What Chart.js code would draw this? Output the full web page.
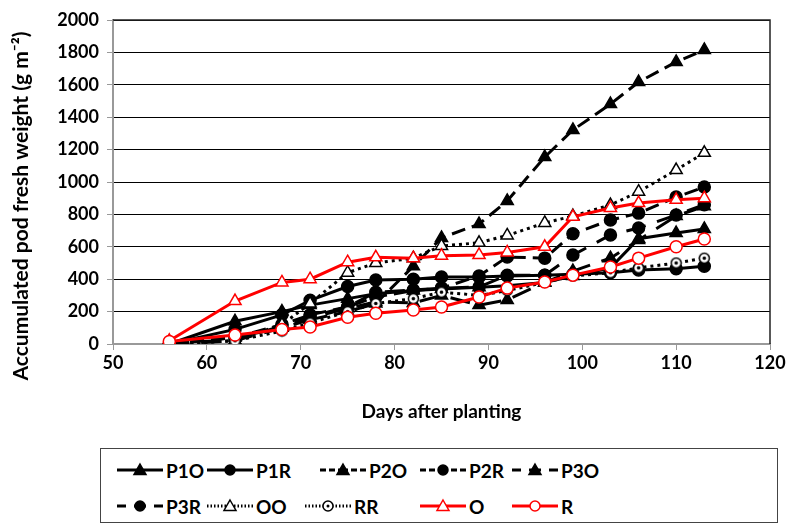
<!DOCTYPE html>
<html>
<head>
<meta charset="utf-8">
<script src="https://cdn.jsdelivr.net/npm/chart.js@4"></script>
<style>
body { margin: 0; background: #fff; font-family: Lato, "Liberation Sans", sans-serif; }
#wrap { position: relative; width: 788px; height: 527px; }
#chart { position: absolute; left: 0; top: 0; }
#legend { position: absolute; left: 100px; top: 448px; width: 678px; height: 75px; border: 1px solid #444; box-sizing: border-box; }
.item { position: absolute; display: flex; align-items: center; font-weight: bold; font-size: 19px; height: 20px; }
.item canvas { margin-right: 3px; }
</style>
</head>
<body>
<div id="wrap">
  <canvas id="chart" width="788" height="440"></canvas>
  <div id="legend"></div>
</div>
<script>
// days after planting
const days = [56, 63, 68, 71, 75, 78, 82, 85, 89, 92, 96, 99, 103, 106, 110, 113];

// accumulated pod fresh weight, g m-2
const p1o = [0, 140, 200, 240, 280, 310, 330, 340, 350, 360, 380, 420, 470, 650, 685, 710];
const p1r = [0, 90, 180, 270, 355, 395, 400, 413, 413, 420, 425, 430, 440, 457, 465, 480];
const p2o = [0, 40, 100, 150, 200, 250, 480, 655, 740, 883, 1154, 1321, 1481, 1617, 1741, 1815];
const p2r = [0, 40, 120, 180, 230, 290, 330, 345, 420, 537, 530, 680, 765, 808, 907, 969];
const p3o = [0, 20, 100, 160, 220, 260, 253, 300, 240, 272, 380, 450, 530, 642, 790, 850];
const p3r = [0, 30, 110, 170, 228, 320, 333, 345, 352, 425, 425, 549, 673, 716, 796, 860];
const oo  = [0, 20, 120, 250, 440, 500, 530, 605, 625, 670, 747, 790, 858, 940, 1074, 1180];
const rr  = [0, 20, 80, 130, 200, 250, 280, 320, 300, 330, 380, 420, 440, 470, 500, 530];
const o   = [20, 265, 380, 400, 505, 535, 530, 545, 550, 565, 600, 785, 840, 870, 890, 900];
const r   = [15, 55, 90, 105, 165, 190, 210, 228, 290, 345, 383, 425, 475, 530, 600, 648];

const dashP2 = [14, 7];
const dashP3 = [20, 12];
const dots = [3, 4];

// circle with a dot in the middle, used for RR
function dotCircle(size) {
  const c = document.createElement('canvas');
  c.width = size; c.height = size;
  const g = c.getContext('2d');
  const m = size / 2;
  g.fillStyle = '#fff'; g.strokeStyle = '#000'; g.lineWidth = 1.5;
  g.beginPath(); g.arc(m, m, m - 1.5, 0, Math.PI * 2); g.fill(); g.stroke();
  g.fillStyle = '#000';
  g.beginPath(); g.arc(m, m, 1.8, 0, Math.PI * 2); g.fill();
  return c;
}

const seriesDefs = [
  { label: 'P1O', data: p1o, color: '#000', dash: [], legDash: [], style: 'triangle', fill: '#000' },
  { label: 'P1R', data: p1r, color: '#000', dash: [], legDash: [], style: 'circle', fill: '#000' },
  { label: 'P2O', data: p2o, color: '#000', dash: dashP2, legDash: [6, 3], style: 'triangle', fill: '#000' },
  { label: 'P2R', data: p2r, color: '#000', dash: dashP2, legDash: [6, 3], style: 'circle', fill: '#000' },
  { label: 'P3O', data: p3o, color: '#000', dash: dashP3, legDash: [9, 8], style: 'triangle', fill: '#000' },
  { label: 'P3R', data: p3r, color: '#000', dash: dashP3, legDash: [9, 8], style: 'circle', fill: '#000' },
  { label: 'OO', data: oo, color: '#000', dash: dots, legDash: [1.5, 2], style: 'triangle', fill: '#fff' },
  { label: 'RR', data: rr, color: '#000', dash: dots, legDash: [1.5, 2], style: 'dotcircle', fill: '#fff' },
  { label: 'O', data: o, color: '#ff0000', dash: [], legDash: [], style: 'triangle', fill: '#fff' },
  { label: 'R', data: r, color: '#ff0000', dash: [], legDash: [], style: 'circle', fill: '#fff' }
];

const datasets = seriesDefs.map((s, i) => ({
  label: s.label,
  data: days.map((d, k) => ({ x: d, y: s.data[k] })),
  borderColor: s.color,
  borderWidth: 3,
  borderDash: s.dash,
  pointStyle: s.style === 'dotcircle' ? dotCircle(13) : s.style,
  pointRadius: s.style === 'triangle' ? 7 : 6,
  pointBackgroundColor: s.fill,
  pointBorderColor: s.color,
  pointBorderWidth: 1.5,
  tension: 0,
  order: 10 - i
}));

const frame = {
  id: 'frame',
  afterDraw(chart) {
    const { ctx, chartArea: a } = chart;
    ctx.save();
    ctx.strokeStyle = '#222';
    ctx.lineWidth = 1.5;
    ctx.beginPath();
    ctx.moveTo(a.left, a.top);
    ctx.lineTo(a.right, a.top);
    ctx.lineTo(a.right, a.bottom);
    ctx.stroke();
    // y axis title, centred like the original (not on the plot)
    ctx.translate(21, 206);
    ctx.rotate(-Math.PI / 2);
    ctx.fillStyle = '#000';
    ctx.font = 'bold 21px Lato, "Liberation Sans", sans-serif';
    ctx.textAlign = 'center';
    ctx.textBaseline = 'middle';
    ctx.fillText('Accumulated pod fresh weight (g m\u207B\u00B2)', 0, 0);
    ctx.restore();
  }
};

const tickFont = { family: 'Lato, "Liberation Sans", sans-serif', size: 18, weight: 'bold' };

new Chart(document.getElementById('chart'), {
  type: 'line',
  data: { datasets: datasets },
  options: {
    responsive: false,
    animation: false,
    layout: { padding: { top: 20, right: 18, left: 0, bottom: 0 } },
    plugins: { legend: { display: false }, tooltip: { enabled: false } },
    scales: {
      x: {
        type: 'linear',
        min: 50, max: 120,
        ticks: { stepSize: 10, color: '#000', font: tickFont, padding: 2, callback: v => String(v) },
        grid: { drawOnChartArea: false, tickColor: '#999', tickLength: 6 },
        border: { color: '#999', width: 2 },
        title: { display: true, text: 'Days after planting', color: '#000',
                 font: { family: 'Lato, "Liberation Sans", sans-serif', size: 19, weight: 'bold' },
                 padding: { top: 0, bottom: 17 } },
        afterFit: s => { s.height = 96; }
      },
      y: {
        min: 0, max: 2000,
        ticks: { stepSize: 200, color: '#000', font: tickFont, padding: 8, callback: v => String(v) },
        grid: {
          color: c => c.tick.value === 0 ? 'rgba(0,0,0,0)' : '#000',
          lineWidth: 1,
          borderDash: [2, 2],
          tickColor: '#999',
          tickBorderDash: [],
          tickLength: 6
        },
        border: { color: '#999', width: 2 },
        afterFit: s => { s.width = 113; }
      }
    }
  },
  plugins: [frame]
});

// legend: sample line with marker, then label
const legendPos = [
  [117, 21], [207, 21], [320, 21], [420, 21], [512, 21],
  [117, 57], [207, 57], [305, 57], [420, 57], [512, 57]
];
const legend = document.getElementById('legend');
seriesDefs.forEach((s, i) => {
  const item = document.createElement('div');
  item.className = 'item';
  item.style.left = (legendPos[i][0] - 101) + 'px';
  item.style.top = (legendPos[i][1] - 10) + 'px';
  const c = document.createElement('canvas');
  c.width = 46; c.height = 16;
  const g = c.getContext('2d');
  g.strokeStyle = s.color;
  g.lineWidth = 3;
  g.setLineDash(s.legDash);
  // both halves start from the outside so the dashes sit symmetric round the marker
  g.beginPath(); g.moveTo(0, 8); g.lineTo(23, 8); g.stroke();
  g.beginPath(); g.moveTo(46, 8); g.lineTo(23, 8); g.stroke();
  g.setLineDash([]);
  g.fillStyle = s.fill;
  g.lineWidth = 1.5;
  g.beginPath();
  if (s.style === 'triangle') {
    g.moveTo(23, 2); g.lineTo(29, 12.5); g.lineTo(17, 12.5); g.closePath();
  } else {
    g.arc(23, 8, 5, 0, Math.PI * 2);
  }
  g.fill(); g.stroke();
  if (s.style === 'dotcircle') {
    g.fillStyle = '#000';
    g.beginPath(); g.arc(23, 8, 1.5, 0, Math.PI * 2); g.fill();
  }
  item.appendChild(c);
  const t = document.createElement('span');
  t.textContent = s.label;
  item.appendChild(t);
  legend.appendChild(item);
});
</script>
</body>
</html>
